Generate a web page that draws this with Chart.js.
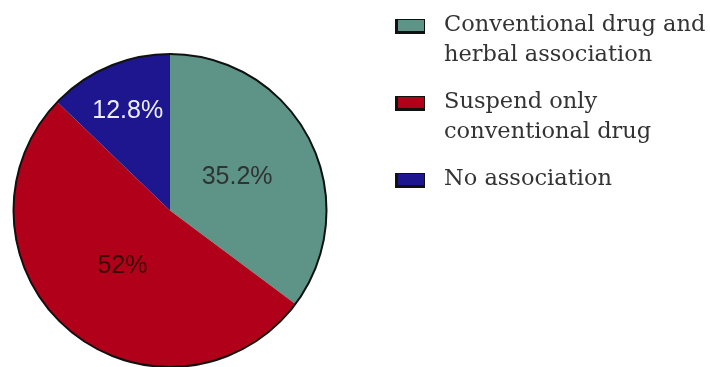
<!doctype html>
<html lang="en">
  <head>
    <meta charset="utf-8">
    <title>Drug association</title>
    <script src="https://cdn.jsdelivr.net/npm/chart.js@4.4.0/dist/chart.umd.min.js"></script>
    <style>
      html, body { margin: 0; padding: 0; background: #fff; }
      #wrap { width: 710px; height: 367px; }
    </style>
  </head>
  <body>
    <div id="wrap"><canvas id="myChart"></canvas></div>

    <script>
      const categories = [
        ['Conventional drug and', 'herbal association'],
        ['Suspend only', 'conventional drug'],
        ['No association']
      ];
      const shares = [35.2, 52, 12.8];
      const sliceColors = ['#5e9387', '#b10019', '#1e168e'];
      const valueColors = ['#2f3331', '#3a0508', '#eeeef6'];

      // value labels inside each slice, placed along the slice's mid angle
      const sliceLabels = {
        id: 'sliceLabels',
        afterDatasetsDraw(chart, args, opts) {
          const ctx = chart.ctx;
          const meta = chart.getDatasetMeta(0);
          ctx.save();
          ctx.font = '25px "Liberation Sans", Arial, sans-serif';
          ctx.textAlign = 'center';
          ctx.textBaseline = 'middle';
          meta.data.forEach((arc, i) => {
            const mid = (arc.startAngle + arc.endAngle) / 2;
            const r = arc.outerRadius * opts.dist[i];
            ctx.fillStyle = valueColors[i];
            ctx.fillText(shares[i] + '%', arc.x + Math.cos(mid) * r, arc.y + Math.sin(mid) * r);
          });

          // black outline round the whole pie
          const a = meta.data[0];
          ctx.beginPath();
          ctx.arc(a.x, a.y, a.outerRadius, 0, Math.PI * 2);
          ctx.lineWidth = 2;
          ctx.strokeStyle = '#111';
          ctx.stroke();
          ctx.restore();
        }
      };

      // legend to the right of the pie
      const sideLegend = {
        id: 'sideLegend',
        afterDraw(chart, args, opts) {
          const ctx = chart.ctx;
          ctx.save();
          ctx.font = '22.5px "DejaVu Serif", serif';
          ctx.textBaseline = 'middle';
          ctx.textAlign = 'left';
          let y = opts.top;
          categories.forEach((lines, i) => {
            ctx.fillStyle = '#111';
            ctx.fillRect(opts.boxX, y - 6, 30, 15);
            ctx.fillStyle = sliceColors[i];
            ctx.fillRect(opts.boxX + 3, y - 5, 26, 11);
            ctx.fillStyle = '#333';
            lines.forEach((t, j) => ctx.fillText(t, opts.textX, y + j * opts.lineH));
            y += lines.length * opts.lineH + opts.gap;
          });
          ctx.restore();
        }
      };

      new Chart(document.getElementById('myChart'), {
        type: 'pie',
        data: {
          labels: categories,
          datasets: [{
            data: shares,
            backgroundColor: sliceColors,
            borderWidth: 0
          }]
        },
        options: {
          responsive: true,
          maintainAspectRatio: false,
          animation: false,
          layout: { padding: { left: 13, right: 383, top: 54, bottom: 0 } },
          plugins: {
            legend: { display: false },
            tooltip: { enabled: false },
            sliceLabels: { dist: [0.48, 0.47, 0.69] },
            sideLegend: { top: 25, boxX: 395, textX: 444, lineH: 30, gap: 17 }
          }
        },
        plugins: [sliceLabels, sideLegend]
      });
    </script>
  </body>
</html>
